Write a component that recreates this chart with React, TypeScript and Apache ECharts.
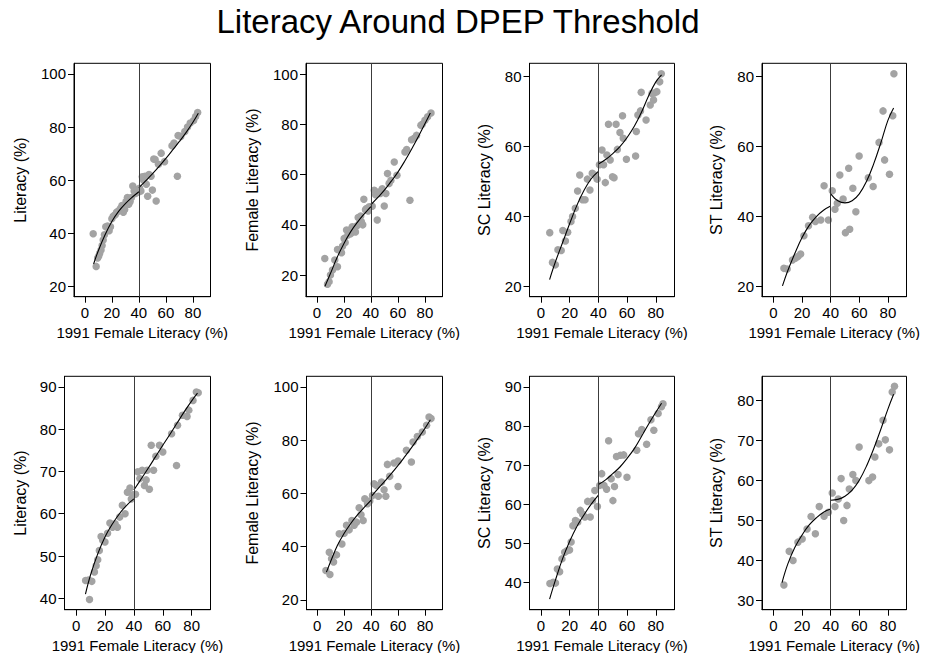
import React, { useEffect, useRef } from "react";
import * as echarts from "echarts";

const FONT = '"Liberation Sans", Arial, Helvetica, sans-serif';
const TITLE = "Literacy Around DPEP Threshold";
const X_NAME = "1991 Female Literacy (%)";
const X_TICKS = [0, 20, 40, 60, 80];
const THRESHOLD = 40;

// ---------- Panel 1: Literacy (top row) ----------
const p1Points = [
  [6.2, 39.9], [8.4, 27.6], [9.5, 30.8], [10.3, 31.5], [11, 32.5], [12, 33.8], [12.8, 35.5], [13.6, 37.5],
  [14.5, 39.5], [15.5, 42.5], [16.8, 42.8], [18, 41], [19, 42.5], [20, 45.5], [21, 46.5], [22.5, 47],
  [23.5, 48], [25, 48.5], [26.5, 49.5], [27.5, 50.5], [28.5, 48], [29.5, 49], [30.5, 52], [31.5, 53.5],
  [32.5, 51], [33.5, 52], [34.5, 53.5], [35.5, 57.8], [36.5, 56], [37.5, 55], [38.5, 56.5], [39.5, 55.5],
  [40.5, 57], [41.5, 56], [42.5, 61.3], [43.5, 60], [44.5, 61.5], [45.5, 58.5], [46.5, 54], [47.5, 62.2],
  [49, 61.5], [50, 56.3], [51, 68], [52, 67.8], [52.8, 52.2], [54.5, 66], [56.5, 70.2], [59, 67],
  [64.5, 73], [66, 74], [68.5, 61.5], [69, 76.8], [71, 76.5], [74, 78.3], [76, 80], [78, 81.5],
  [80.5, 82.5], [82, 84], [83.5, 85.5],
];
const p1FitLeft = [[6.5, 28.5], [10, 33.5], [15, 39.5], [20, 44.5], [25, 48.3], [30, 51.2], [35, 53.6], [40, 55.7]];
const p1FitRight = [[40, 57.2], [45, 59.8], [50, 62.4], [55, 65.2], [60, 68.2], [65, 71.4], [70, 74.6], [75, 78], [80, 81.8], [84, 85.2]];
const p1YTicks = [20, 40, 60, 80, 100];

// ---------- Panel 2: Female Literacy (top row) ----------
const p2Points = [
  [5.9, 26.6], [7.9, 16.4], [9.1, 17.4], [10.1, 20], [11.6, 22], [13.3, 26], [15.3, 23.3], [15.3, 30.2],
  [17, 30], [18.3, 28.9], [19, 31.5], [20.2, 34.6], [21, 33], [22, 37.9], [23, 36], [24.4, 37.9],
  [25, 36.5], [26.2, 39.2], [27, 38], [28.6, 37.2], [29.5, 39.5], [30.6, 42.9], [31.5, 40.5], [32.5, 43.5],
  [33, 41.2], [34, 40], [34.8, 50.2], [36, 46], [36.8, 46.5], [38, 45.5], [38.8, 47.2], [41, 47.4],
  [42.5, 53.8], [43.5, 52], [44.7, 41.9], [45.9, 53.1], [47, 52.5], [48.4, 54.4], [49.9, 47.5], [51.1, 52.5],
  [52.3, 60.4], [53.5, 56.5], [54.8, 57.7], [57.3, 65], [59.3, 59.7], [65.2, 69], [66.5, 70], [68.9, 49.8],
  [70.1, 73.9], [72, 74.5], [73.8, 75.6], [77, 79.6], [78, 80], [80, 81.6], [82, 83], [84.5, 84.5],
];
const p2FitLeft = [[6, 15.5], [10, 20.5], [15, 27], [20, 32.5], [25, 37.2], [30, 41], [35, 44.3], [40, 47.3]];
const p2FitRight = [[40, 48], [45, 50.8], [50, 53.8], [55, 57.3], [60, 61], [65, 65.3], [70, 70], [75, 75], [80, 80.2], [84, 84.5]];
const p2YTicks = [20, 40, 60, 80, 100];

// ---------- Panel 3: SC Literacy (top row) ----------
const p3Points = [
  [6.1, 35.4], [8, 26.9], [10, 26.2], [11.8, 30.5], [14.1, 30.3], [15.2, 36], [17, 33], [18.6, 35.5],
  [20.9, 38.6], [22, 40], [23.9, 42.4], [25.5, 47.3], [27, 51.9], [28.9, 44.8], [30.7, 44.8], [32.3, 50.7],
  [34.1, 47.6], [35.7, 52.4], [37.3, 51.9], [39.1, 50.7], [40.7, 54.8], [42.5, 59], [43.6, 54.8], [44.8, 49.7],
  [45.9, 57.6], [47, 66.4], [48.2, 56.2], [49.8, 51.4], [50.9, 51.1], [52.3, 66.4], [53.2, 59.2], [55, 64],
  [56.8, 68.8], [57.3, 62.4], [59.5, 56.4], [65.9, 57.3], [66.4, 64.3], [67.5, 69], [69.3, 70.2], [69.8, 75.5],
  [73.2, 67.6], [76.1, 71.9], [77.3, 75.2], [78.4, 73.3], [78.9, 75.3], [80.7, 75.7], [82.7, 78.5], [83.8, 80.8],
];
const p3FitLeft = [[6, 22], [10, 27], [15, 32.5], [20, 38], [25, 43.2], [30, 47.5], [35, 50.8], [40, 52.9]];
const p3FitRight = [[40, 55], [45, 56.3], [50, 58], [55, 60], [60, 62.6], [65, 65.8], [70, 69.8], [75, 74.5], [80, 78.5], [84, 80.5]];
const p3YTicks = [20, 40, 60, 80];

// ---------- Panel 4: ST Literacy (top row) ----------
const p4Points = [
  [7.3, 25.2], [9.6, 25], [13.3, 27.6], [15.3, 28.1], [17.1, 28.6], [19, 29.3], [21.3, 34.5], [24.5, 37.4],
  [27.4, 39.8], [29.3, 38.6], [33.1, 39], [35.4, 48.8], [38.4, 39], [41.1, 47.4], [43, 42.1], [44.6, 43.8],
  [46.4, 51.9], [48.7, 45], [50.3, 35.4], [52.6, 53.8], [53.3, 36.4], [55.5, 48.1], [57.6, 41.4], [59.9, 57.3],
  [66.3, 51.1], [69.7, 48.6], [73.8, 61.2], [76.6, 70.2], [77.7, 56.2], [81.1, 52.1], [83.4, 68.8], [84.2, 80.8],
];
const p4FitLeft = [[6.3, 20.2], [10, 24.5], [15, 29.5], [20, 34], [25, 37.5], [30, 40], [35, 41.8], [40, 43]];
const p4FitRight = [[40, 46.5], [45, 44.5], [50, 43.9], [55, 44.5], [60, 46.5], [65, 50], [70, 55], [75, 61], [80, 67.5], [84, 71]];
const p4YTicks = [20, 40, 60, 80];

// ---------- Panel 5: Literacy (bottom row) ----------
const p5Points = [
  [6.6, 44.2], [8.6, 44.3], [9.3, 39.7], [10.9, 44], [12.7, 46.2], [13.9, 47.7], [15, 49.1], [16.1, 51.3],
  [17.3, 54.6], [18.4, 53.7], [20, 53.3], [21.8, 55.4], [23.4, 57.8], [25.2, 56.8], [27, 57.6], [28.6, 56.8],
  [30.2, 59.2], [32, 62], [33.9, 60], [35.5, 65.1], [37.3, 66.1], [38.2, 63.5], [39.2, 64.5], [41.1, 64.6],
  [42.7, 69.9], [44.1, 68.3], [45.7, 70.3], [47.3, 66.7], [48.5, 68], [49.1, 70.3], [50.7, 65.8], [52, 76.2],
  [53.6, 70.3], [55.2, 73.6], [57.7, 76.2], [60, 74.6], [66.1, 78.9], [69.5, 71.4], [70.2, 80.9], [73.6, 83.3],
  [76.8, 83], [78, 84.5], [80.9, 86.8], [83.2, 88.8], [84.5, 88.6],
];
const p5FitLeft = [[6.5, 41], [10, 45.5], [15, 50.5], [20, 54.5], [25, 57.5], [30, 60], [35, 62], [40, 63.5]];
const p5FitRight = [[40, 65.6], [45, 68.2], [50, 70.8], [55, 73.5], [60, 76.2], [65, 78.8], [70, 81.5], [75, 84.2], [80, 86.7], [84, 88.5]];
const p5YTicks = [40, 50, 60, 70, 80, 90];

// ---------- Panel 6: Female Literacy (bottom row) ----------
const p6Points = [
  [6.4, 31], [8.9, 37.9], [9.4, 29.5], [10.6, 35.4], [12.1, 34.2], [14.3, 36.9], [16.3, 44.8], [18.3, 41],
  [20, 45], [21.7, 48], [23.7, 46.3], [25.7, 49.8], [27.4, 48], [29.1, 49.2], [31.1, 54.6], [32.5, 52],
  [34.1, 49.8], [35.3, 58], [37.3, 56.1], [39, 57.1], [41, 59.2], [42.2, 63.6], [44, 63], [45.4, 58.9],
  [47.7, 64.3], [49.6, 61.4], [50.9, 58.9], [52.1, 70.9], [53.8, 66.4], [57, 71.4], [60, 62.6], [60, 72.2],
  [66.2, 76.2], [69.9, 71.8], [71.1, 79.3], [74.3, 81.4], [78, 83.1], [81.2, 85.6], [83, 88.7], [84.5, 88.1],
];
const p6FitLeft = [[6.8, 30.4], [10, 34.5], [15, 40.5], [20, 45], [25, 48.8], [30, 52], [35, 54.8], [40, 57.5]];
const p6FitRight = [[40, 58.8], [45, 61.7], [50, 64.5], [55, 67.4], [60, 70.5], [65, 73.8], [70, 77.2], [75, 80.8], [80, 84.5], [84, 87.7]];
const p6YTicks = [20, 40, 60, 80, 100];

// ---------- Panel 7: SC Literacy (bottom row) ----------
const p7Points = [
  [6.2, 39.7], [8.5, 40], [10.1, 39.8], [11.4, 43.4], [13, 42.7], [14.6, 46], [16.5, 47.7], [18.1, 48.1],
  [19.9, 48.3], [21, 50.3], [22.2, 54.5], [24, 55.8], [25.6, 55.4], [27.4, 58.4], [29, 57.4], [30.6, 56.7],
  [32.5, 60.7], [34.3, 56.7], [35.9, 60.9], [37.5, 63.5], [39.3, 59.4], [40.9, 64.8], [42.3, 67.8], [43.9, 64.8],
  [45.7, 63.8], [47.1, 76.2], [48.9, 66.5], [50.1, 60.9], [51.2, 64.5], [52.6, 72.2], [53.7, 67.6], [55.3, 72.5],
  [57.6, 72.6], [59.9, 66.9], [66.7, 73.8], [67.9, 78], [70.2, 79.1], [73.6, 75.3], [76.6, 81.6], [78.6, 78.9],
  [81.6, 83.2], [83.9, 84.9], [85, 85.7],
];
const p7FitLeft = [[6, 35.7], [10, 40.5], [15, 46], [20, 50.5], [25, 54.3], [30, 57.3], [35, 60], [40, 62.3]];
const p7FitRight = [[40, 65], [45, 66.2], [50, 67.8], [55, 69.5], [60, 71.7], [65, 74.2], [70, 77.3], [75, 80.5], [80, 83.5], [84, 85.8]];
const p7YTicks = [40, 50, 60, 70, 80, 90];

// ---------- Panel 8: ST Literacy (bottom row) ----------
const p8Points = [
  [7.3, 33.8], [11, 42.2], [13.7, 39.9], [17.1, 44.5], [20.1, 45.3], [23.5, 47.8], [26.3, 50.9], [29.3, 46.6],
  [32, 53.4], [35.4, 51], [38.4, 52], [41.1, 56.8], [43, 53.4], [45.3, 55.3], [47.3, 60.4], [49.1, 49.9],
  [51.4, 53.7], [53, 57.8], [55.5, 61.4], [57.6, 59.9], [59.9, 68.3], [66.7, 59.9], [69.3, 60.8], [70.9, 65.8],
  [73.6, 69.1], [76.6, 75], [78.2, 70.1], [81.1, 67.6], [83, 82.1], [84.6, 83.5],
];
const p8FitLeft = [[6, 34.4], [10, 39], [15, 43.2], [20, 46.3], [25, 48.8], [30, 50.6], [35, 52], [40, 52.8]];
const p8FitRight = [[40, 55], [45, 55.2], [50, 56], [55, 57.5], [60, 60], [65, 63.5], [70, 67.8], [75, 72.7], [80, 77.8], [84, 81.5]];
const p8YTicks = [30, 40, 50, 60, 70, 80];

const PANELS = [
  { yName: "Literacy (%)", points: p1Points, fitL: p1FitLeft, fitR: p1FitRight, yTicks: p1YTicks, yMin: 16.2, yMax: 104 },
  { yName: "Female Literacy (%)", points: p2Points, fitL: p2FitLeft, fitR: p2FitRight, yTicks: p2YTicks, yMin: 11.4, yMax: 104.3 },
  { yName: "SC Literacy (%)", points: p3Points, fitL: p3FitLeft, fitR: p3FitRight, yTicks: p3YTicks, yMin: 17.1, yMax: 83.8 },
  { yName: "ST Literacy (%)", points: p4Points, fitL: p4FitLeft, fitR: p4FitRight, yTicks: p4YTicks, yMin: 17.1, yMax: 83.8 },
  { yName: "Literacy (%)", points: p5Points, fitL: p5FitLeft, fitR: p5FitRight, yTicks: p5YTicks, yMin: 37.3, yMax: 92.5 },
  { yName: "Female Literacy (%)", points: p6Points, fitL: p6FitLeft, fitR: p6FitRight, yTicks: p6YTicks, yMin: 16.3, yMax: 104 },
  { yName: "SC Literacy (%)", points: p7Points, fitL: p7FitLeft, fitR: p7FitRight, yTicks: p7YTicks, yMin: 33, yMax: 92.7 },
  { yName: "ST Literacy (%)", points: p8Points, fitL: p8FitLeft, fitR: p8FitRight, yTicks: p8YTicks, yMin: 27.6, yMax: 86 },
];

// ---------- Layout (positions / sizes) ----------
const CELL_W = 232;
const CELL_H = 300;
const ROW_TOP = [40, 353];
const GRID_LEFT = [74, 74, 65.5, 66, 64.5, 74.5, 65.5, 66];
const GRID_RIGHT_EDGE = 210.5;
const GRID_TOP = 23.3;
const GRID_H = 233.4;
const X_MIN = -8;
const X_MAX = 93;
const Y_NAME_CENTER = 20;

const TICK_FS = 15;
const X_NAME_FS = 15;
const Y_NAME_FS = 16;

function panelOption(p: any, idx: number) {
  const left = GRID_LEFT[idx];
  const axisText = { color: "#000", fontFamily: FONT };
  return {
    animation: false,
    textStyle: { fontFamily: FONT },
    grid: {
      left,
      top: GRID_TOP,
      width: GRID_RIGHT_EDGE - left,
      height: GRID_H,
      show: true,
      borderColor: "#000",
      borderWidth: 1,
      backgroundColor: "transparent",
      containLabel: false,
      outerBoundsMode: "none",
    },
    xAxis: {
      type: "value",
      min: X_MIN,
      max: X_MAX,
      name: X_NAME,
      nameLocation: "middle",
      nameGap: 25,
      nameTextStyle: { ...axisText, fontSize: X_NAME_FS },
      axisLine: { show: true, onZero: false, lineStyle: { color: "#000", width: 1 } },
      axisTick: { show: true, inside: false, length: 6, customValues: X_TICKS, lineStyle: { color: "#000", width: 1 } },
      axisLabel: { show: true, customValues: X_TICKS, ...axisText, fontSize: TICK_FS, margin: 8 },
      splitLine: { show: false },
    },
    yAxis: {
      type: "value",
      min: p.yMin,
      max: p.yMax,
      name: p.yName,
      nameLocation: "middle",
      nameGap: left - Y_NAME_CENTER - 8,
      nameTextStyle: { ...axisText, fontSize: Y_NAME_FS },
      axisLine: { show: true, onZero: false, lineStyle: { color: "#000", width: 1 } },
      axisTick: { show: true, inside: false, length: 6, customValues: p.yTicks, lineStyle: { color: "#000", width: 1 } },
      axisLabel: { show: true, customValues: p.yTicks, ...axisText, fontSize: TICK_FS, margin: 8 },
      splitLine: { show: false },
    },
    series: [
      {
        type: "scatter",
        data: p.points,
        symbol: "circle",
        symbolSize: 7.5,
        itemStyle: { color: "#a3a3a3", opacity: 1 },
        z: 2,
        markLine: {
          silent: true,
          symbol: ["none", "none"],
          label: { show: false },
          lineStyle: { color: "#3c3c3c", width: 1, type: "solid" },
          data: [{ xAxis: THRESHOLD }],
        },
      },
      {
        type: "line",
        data: p.fitL,
        showSymbol: false,
        smooth: 0.4,
        lineStyle: { color: "#000", width: 1.1 },
        z: 3,
      },
      {
        type: "line",
        data: p.fitR,
        showSymbol: false,
        smooth: 0.4,
        lineStyle: { color: "#000", width: 1.1 },
        z: 3,
      },
    ],
  };
}

const titleOption = {
  animation: false,
  graphic: [
    {
      type: "text",
      x: 458,
      y: 21,
      style: {
        text: TITLE,
        fontSize: 33,
        fontFamily: FONT,
        fill: "#000",
        align: "center",
        verticalAlign: "middle",
      },
    },
  ],
};

function ChartBox({ option, style }: { option: any; style: React.CSSProperties }) {
  const ref = useRef<HTMLDivElement>(null);
  useEffect(() => {
    if (!ref.current) return;
    const chart = echarts.init(ref.current, null, { renderer: "svg" });
    chart.setOption(option);
    return () => chart.dispose();
  }, []);
  return <div ref={ref} style={style} />;
}

export default function App() {
  return (
    <div style={{ position: "absolute", left: 0, top: 0, width: 928, height: 654, background: "#fff", overflow: "hidden" }}>
      <ChartBox option={titleOption} style={{ position: "absolute", left: 0, top: 0, width: 928, height: 44 }} />
      {PANELS.map((p, i) => (
        <ChartBox
          key={i}
          option={panelOption(p, i)}
          style={{
            position: "absolute",
            left: (i % 4) * CELL_W,
            top: ROW_TOP[Math.floor(i / 4)],
            width: CELL_W,
            height: CELL_H,
            overflow: "hidden",
          }}
        />
      ))}
    </div>
  );
}
